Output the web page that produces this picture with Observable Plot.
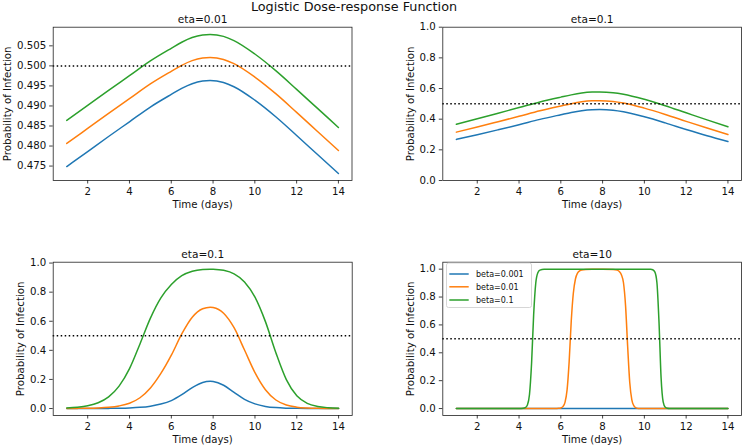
<!DOCTYPE html>
<html><head><meta charset="utf-8">
<script src="https://cdn.jsdelivr.net/npm/d3@7"></script>
<script src="https://cdn.jsdelivr.net/npm/@observablehq/plot@0.6"></script>
<style>
html,body{margin:0;padding:0;background:#fff;}
#fig{position:relative;width:744px;height:447px;overflow:hidden;background:#fff;font-family:"DejaVu Sans",sans-serif;}
#fig .p{position:absolute;}
#overlay{position:absolute;left:0;top:0;pointer-events:none;}
</style></head><body><div id="fig"></div>
<script>
// ---- data ----
const betaLabels = ["beta=0.001", "beta=0.01", "beta=0.1"];
const betaColors = ["#1f77b4", "#ff7f0e", "#2ca02c"];
const xTicks = [2, 4, 6, 8, 10, 12, 14];

// panels eta=0.01 and eta=0.1 (top row)
const timeTop = [1, 2, 3, 4, 5, 6, 6.5, 7, 7.5, 7.86, 8.5, 9, 10, 11, 12, 13, 14];
const eta001Beta0001 = [0.47488, 0.47863, 0.48238, 0.48605, 0.48973, 0.49288, 0.49438, 0.49555, 0.49620, 0.49633, 0.49585, 0.49480, 0.49145, 0.48730, 0.48263, 0.47788, 0.47313];
const eta001Beta001  = [0.48064, 0.48439, 0.48814, 0.49181, 0.49549, 0.49864, 0.50014, 0.50131, 0.50196, 0.50209, 0.50161, 0.50056, 0.49721, 0.49306, 0.48839, 0.48364, 0.47889];
const eta001Beta01   = [0.48639, 0.49014, 0.49389, 0.49756, 0.50124, 0.50439, 0.50589, 0.50706, 0.50771, 0.50784, 0.50736, 0.50631, 0.50296, 0.49881, 0.49414, 0.48939, 0.48464];
const eta01Beta0001 = [0.2680, 0.2984, 0.3307, 0.3640, 0.3987, 0.4292, 0.4440, 0.4556, 0.4621, 0.4633, 0.4586, 0.4482, 0.4153, 0.3757, 0.3329, 0.2921, 0.2545];
const eta01Beta001  = [0.3155, 0.3487, 0.3835, 0.4188, 0.4549, 0.4863, 0.5013, 0.5131, 0.5196, 0.5208, 0.5161, 0.5056, 0.4721, 0.4310, 0.3859, 0.3419, 0.3005];
const eta01Beta01   = [0.3671, 0.4026, 0.4392, 0.4756, 0.5124, 0.5438, 0.5586, 0.5702, 0.5765, 0.5777, 0.5731, 0.5628, 0.5296, 0.4881, 0.4416, 0.3954, 0.3510];

// bottom-left panel
const timeBL = [1, 1.5, 2, 2.5, 3, 3.5, 4, 4.5, 5, 5.5, 6, 6.5, 7, 7.5, 7.86, 8, 8.5, 9, 9.5, 10, 10.5, 11, 11.5, 12, 12.5, 13, 13.5, 14];
const blBeta0001 = [0.0000, 0.0001, 0.0002, 0.0004, 0.0009, 0.0018, 0.0038, 0.0079, 0.0162, 0.0308, 0.0547, 0.0953, 0.1443, 0.1795, 0.1869, 0.1854, 0.1597, 0.1110, 0.0630, 0.0317, 0.0146, 0.0062, 0.0025, 0.0010, 0.0004, 0.0001, 0.0001, 0.0000];
const blBeta001  = [0.0004, 0.0009, 0.0019, 0.0041, 0.0086, 0.0179, 0.0364, 0.0740, 0.1410, 0.2410, 0.3666, 0.5132, 0.6279, 0.6863, 0.6970, 0.6949, 0.6554, 0.5555, 0.4020, 0.2466, 0.1293, 0.0586, 0.0242, 0.0095, 0.0037, 0.0014, 0.0006, 0.0002];
const blBeta01   = [0.0043, 0.0091, 0.0190, 0.0394, 0.0798, 0.1538, 0.2739, 0.4440, 0.6213, 0.7604, 0.8526, 0.9133, 0.9440, 0.9563, 0.9583, 0.9579, 0.9500, 0.9259, 0.8705, 0.7658, 0.5975, 0.3834, 0.1986, 0.0875, 0.0357, 0.0141, 0.0055, 0.0021];

// bottom-right panel eta=10
const timeE10Beta0001 = [1, 4, 7.86, 11, 14];
const e10Beta0001 = [0, 0, 0, 0, 0];
const timeE10Beta001 = [1, 5.5, 5.8, 5.9, 6.0, 6.1, 6.2, 6.3, 6.4, 6.5, 6.6, 6.7, 6.8, 6.9, 7.0, 7.2, 7.5, 8, 8.5, 8.7, 8.8, 8.9, 9.0, 9.1, 9.2, 9.3, 9.4, 9.5, 9.6, 9.7, 9.9, 14];
const e10Beta001 = [0, 0, 0.0004, 0.0013, 0.0042, 0.0138, 0.0444, 0.1335, 0.3385, 0.6295, 0.8292, 0.9296, 0.9715, 0.9876, 0.9947, 0.9984, 0.9996, 0.9998, 0.9984, 0.9928, 0.9834, 0.9600, 0.9027, 0.7369, 0.4452, 0.1869, 0.0618, 0.0185, 0.0046, 0.0011, 0.0001, 0];
const timeE10Beta01 = [1, 4, 4.2, 4.3, 4.4, 4.5, 4.6, 4.7, 4.8, 4.9, 5.0, 5.2, 5.5, 8, 10, 10.2, 10.3, 10.4, 10.5, 10.6, 10.7, 10.8, 10.9, 11.0, 11.1, 11.2, 14];
const e10Beta01 = [0, 0.0001, 0.0014, 0.0060, 0.0253, 0.1007, 0.3252, 0.6748, 0.8993, 0.9747, 0.9930, 0.9995, 1, 1, 1, 0.9998, 0.9992, 0.9961, 0.9811, 0.9047, 0.6225, 0.2227, 0.0474, 0.0086, 0.0014, 0.0002, 0];

const ticksTopLeft = [0.475, 0.480, 0.485, 0.490, 0.495, 0.500, 0.505];
const ticksUnit = [0, 0.2, 0.4, 0.6, 0.8, 1.0];

// ---- drawing ----
const fig = document.getElementById("fig");
const FONT = "DejaVu Sans";

function panel(cfg) {
  // one line mark per series, drawn in order blue, orange, green
  const lineMarks = cfg.series.map((s, k) =>
    Plot.line(s.t.map((t, i) => ({t, p: s.v[i], beta: betaLabels[k]})),
      {x: "t", y: "p", stroke: "beta", strokeWidth: 1.5, curve: "monotone-x"}));
  const chart = Plot.plot({
    width: 372, height: cfg.height,
    marginLeft: cfg.ml, marginRight: cfg.mr, marginTop: cfg.mt, marginBottom: cfg.mb,
    style: {fontFamily: FONT, fontSize: "10.2px", background: "transparent", overflow: "visible", color: "#111"},
    x: {domain: [0.35, 14.65], label: null},
    y: {domain: cfg.yDomain, label: null},
    color: {domain: betaLabels, range: betaColors},
    marks: [
      ...lineMarks,
      Plot.ruleY([0.5], {stroke: "#000", strokeWidth: 1.5, strokeDasharray: "1.5,2.5"}),
      Plot.frame({stroke: "#222", strokeWidth: 0.8}),
      Plot.axisX({ticks: xTicks, tickFormat: d => String(d), tickSize: 3.5, tickPadding: 4.2, strokeWidth: 0.8, label: null}),
      Plot.axisY({ticks: cfg.yTicks, tickFormat: cfg.fmt, tickSize: 3.5, tickPadding: 3.5, strokeWidth: 0.8, label: null}),
      Plot.text([cfg.title], {text: d => d, frameAnchor: "top", textAnchor: "middle", lineAnchor: "bottom", dy: -4.3, fontSize: 10.6}),
      Plot.text(["Time (days)"], {text: d => d, frameAnchor: "bottom", textAnchor: "middle", lineAnchor: "bottom", dy: 27.5}),
      Plot.text(["Probability of Infection"], {text: d => d, frameAnchor: "left", textAnchor: "middle", lineAnchor: "middle", rotate: -90, dx: cfg.ylx})
    ]
  });
  const wrap = document.createElement("div");
  wrap.className = "p";
  wrap.style.left = cfg.left + "px";
  wrap.style.top = cfg.top + "px";
  wrap.appendChild(chart);
  fig.appendChild(wrap);
}

panel({left: 0, top: 0, height: 220, ml: 52.7, mr: 20.5, mt: 26.7, mb: 40,
  yDomain: [0.4714, 0.50965], yTicks: ticksTopLeft, fmt: d3.format(".3f"), title: "eta=0.01", ylx: -45.5,
  series: [{t: timeTop, v: eta001Beta0001}, {t: timeTop, v: eta001Beta001}, {t: timeTop, v: eta001Beta01}]});
panel({left: 372, top: 0, height: 220, ml: 70.3, mr: 3, mt: 26.7, mb: 40,
  yDomain: [0, 1], yTicks: ticksUnit, fmt: d3.format(".1f"), title: "eta=0.1", ylx: -32.3,
  series: [{t: timeTop, v: eta01Beta0001}, {t: timeTop, v: eta01Beta001}, {t: timeTop, v: eta01Beta01}]});
panel({left: 0, top: 220, height: 227, ml: 52.7, mr: 20.3, mt: 41.7, mb: 32,
  yDomain: [-0.048, 1.006], yTicks: ticksUnit, fmt: d3.format(".1f"), title: "eta=0.1", ylx: -32.3,
  series: [{t: timeBL, v: blBeta0001}, {t: timeBL, v: blBeta001}, {t: timeBL, v: blBeta01}]});
panel({left: 372, top: 220, height: 227, ml: 70.3, mr: 3, mt: 41.7, mb: 32,
  yDomain: [-0.05, 1.05], yTicks: ticksUnit, fmt: d3.format(".1f"), title: "eta=10", ylx: -32.3,
  series: [{t: timeE10Beta0001, v: e10Beta0001}, {t: timeE10Beta001, v: e10Beta001}, {t: timeE10Beta01, v: e10Beta01}]});

// figure title and legend (overlay)
const NS = "http://www.w3.org/2000/svg";
const ov = document.createElementNS(NS, "svg");
ov.setAttribute("id", "overlay");
ov.setAttribute("width", 744); ov.setAttribute("height", 447);
ov.setAttribute("font-family", FONT);
function el(name, attrs, text) {
  const e = document.createElementNS(NS, name);
  for (const k in attrs) e.setAttribute(k, attrs[k]);
  if (text != null) e.textContent = text;
  ov.appendChild(e);
  return e;
}
el("text", {x: 354, y: 11, "text-anchor": "middle", "font-size": 12.8, fill: "#111"}, "Logistic Dose-response Function");
el("rect", {x: 446.5, y: 263, width: 85, height: 44.5, rx: 2, fill: "#fff", "fill-opacity": 0.8, stroke: "#ccc", "stroke-width": 0.8});
const legendY = [274, 286.8, 300];
betaLabels.forEach((lab, i) => {
  el("line", {x1: 449.3, x2: 468.7, y1: legendY[i], y2: legendY[i], stroke: betaColors[i], "stroke-width": 1.5});
  el("text", {x: 476, y: legendY[i], dy: "0.35em", "font-size": 8, fill: "#111"}, lab);
});
fig.appendChild(ov);
</script>
</body></html>
